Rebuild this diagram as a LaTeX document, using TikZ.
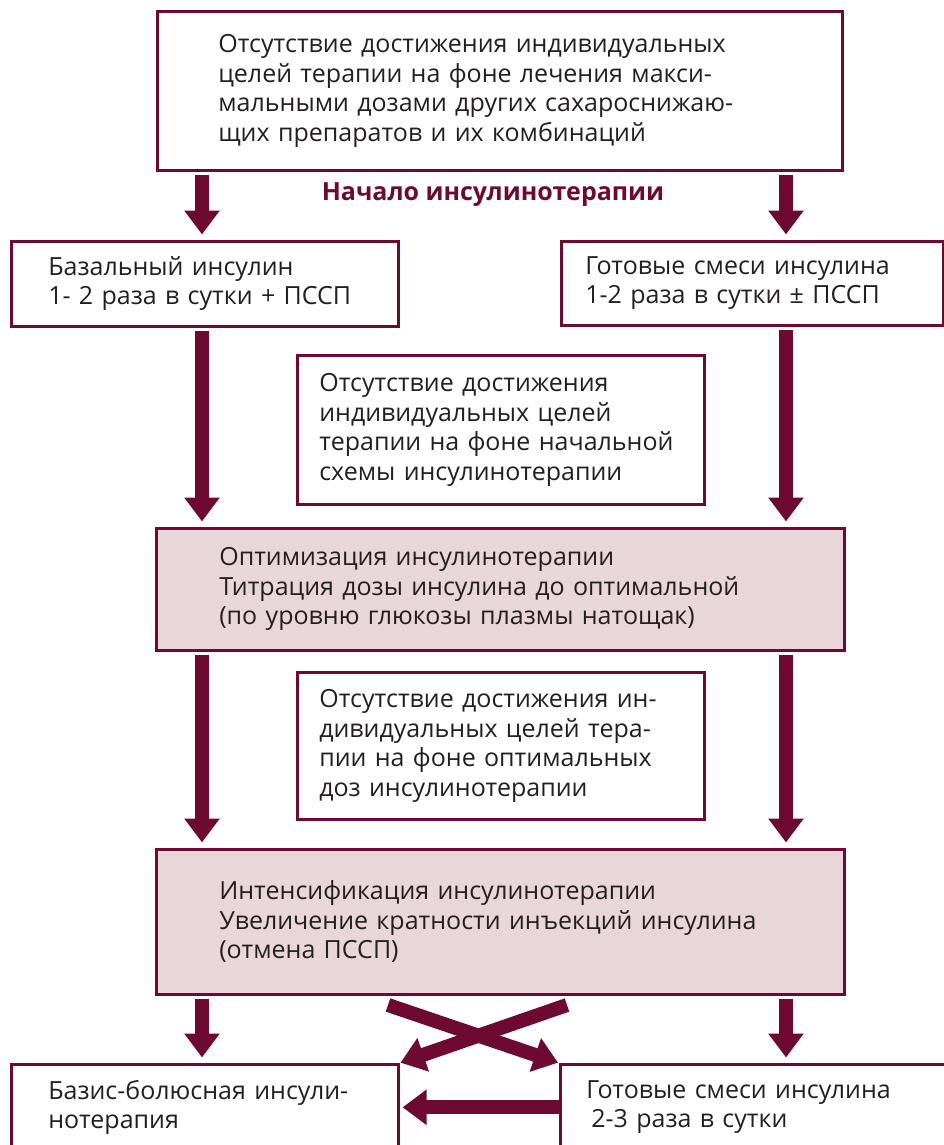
\documentclass[tikz,border=0pt]{standalone}
\usepackage{fontspec}
\setmainfont{Open Sans}
\usetikzlibrary{arrows.meta,positioning}
\definecolor{wine}{RGB}{110,10,50}
\definecolor{rosy}{RGB}{232,214,217}
\definecolor{ink}{RGB}{35,31,32}

\begin{document}
\begin{tikzpicture}[x=1pt,y=-1pt,
    box/.style={draw=wine,line width=2.6pt,anchor=north west,align=left,text=ink,
                inner ysep=0pt,font=\fontsize{25}{29.5}\selectfont},
    shaded box/.style={box,fill=rosy},
    big arrow/.style={draw=wine,line width=14pt,shorten <=3.5pt,shorten >=5.5pt,
                      -{Triangle[width=34pt,length=24pt]}}]

      \useasboundingbox (0,0) rectangle (943,1145);

      \coordinate (lx) at (202,0);
      \coordinate (rx) at (786,0);

      \node[box,minimum width=685pt,minimum height=159pt,inner xsep=61pt,text width=563pt] (nogoal) at (156,10)
        {Отсутствие достижения индивидуальных\\целей терапии на фоне лечения макси-\\мальными дозами других сахароснижаю-\\щих препаратов и их комбинаций};
      \node[font=\bfseries\fontsize{25}{29.5}\selectfont,text=wine] (start) at (493,195) {Начало инсулинотерапии};
      \node[box,minimum width=387pt,minimum height=85pt,inner xsep=37pt,text width=313pt] (basal) at (10,240)
        {Базальный инсулин\\1- 2 раза в сутки + ПССП};
      \node[box,minimum width=382pt,minimum height=84pt,inner xsep=24pt,text width=334pt] (premix) at (560,240)
        {Готовые смеси инсулина\\1-2 раза в сутки ± ПССП};
      \node[box,minimum width=407pt,minimum height=149pt,inner xsep=22pt,text width=363pt] (nogoalstart) at (296,354)
        {Отсутствие достижения\\индивидуальных целей\\терапии на фоне начальной\\схемы инсулинотерапии};
      \node[shaded box,minimum width=688pt,minimum height=122pt,inner xsep=63pt,text width=562pt] (optim) at (155,527)
        {Оптимизация инсулинотерапии\\Титрация дозы инсулина до оптимальной\\(по уровню глюкозы плазмы натощак)};
      \node[box,minimum width=407pt,minimum height=147pt,inner xsep=22pt,text width=363pt] (nogoalopt) at (296,671)
        {Отсутствие достижения ин-\\дивидуальных целей тера-\\пии на фоне оптимальных\\доз инсулинотерапии};
      \node[shaded box,minimum width=688pt,minimum height=145pt,inner xsep=63pt,text width=562pt] (intens) at (155,848)
        {Интенсификация инсулинотерапии\\Увеличение кратности инъекций инсулина\\(отмена ПССП)\\[6pt]};
      \node[box,minimum width=387pt,minimum height=86pt,inner xsep=37pt,text width=313pt] (bolus) at (10,1063)
        {Базис-болюсная инсули-\\нотерапия};
      \node[box,minimum width=391pt,minimum height=86pt,inner xsep=26pt,text width=339pt] (premixtwo) at (559,1063)
        {Готовые смеси инсулина\\\hspace*{5pt}2-3 раза в сутки};

      \coordinate (crossl) at (388,1005);
      \coordinate (crossr) at (567,1005);

      \draw[big arrow] (nogoal.south -| lx) -- (basal.north -| lx);
      \draw[big arrow] (nogoal.south -| rx) -- (premix.north -| rx);
      \draw[big arrow] (basal.south -| lx) -- (optim.north -| lx);
      \draw[big arrow] (premix.south -| rx) -- (optim.north -| rx);
      \draw[big arrow] (optim.south -| lx) -- (intens.north -| lx);
      \draw[big arrow] (optim.south -| rx) -- (intens.north -| rx);
      \draw[big arrow] (intens.south -| lx) -- (bolus.north -| lx);
      \draw[big arrow] (intens.south -| rx) -- (premixtwo.north -| rx);
      \draw[big arrow,shorten <=0pt,shorten >=1pt] (crossr) -- (bolus.north east);
      \draw[big arrow,shorten <=0pt,shorten >=1pt] (crossl) -- (premixtwo.north west);
      \draw[big arrow,shorten <=0pt,shorten >=3pt] (premixtwo.west) -- (bolus.east);
    \end{tikzpicture}
\end{document}
